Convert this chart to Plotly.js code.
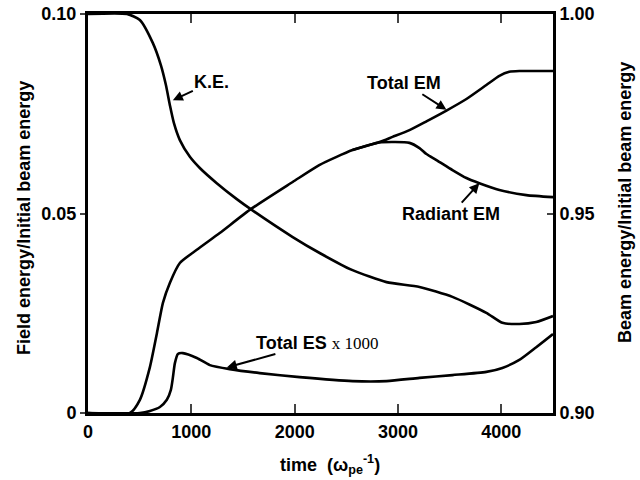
<!DOCTYPE html>
<html><head><meta charset="utf-8">
<script src="https://cdn.plot.ly/plotly-3.0.1.min.js"></script>
<style>html,body{margin:0;padding:0;background:#fff}</style>
</head><body><div id="chart" style="width:640px;height:480px"></div>
<script>
// Beam kinetic energy / initial beam energy (right axis)
const keTime  = [0, 377, 502, 628, 705, 754, 792, 831, 889, 986, 1082, 1246, 1440, 1585, 1981, 2242, 2560, 2889, 3208, 3527, 3855, 4010, 4174, 4338, 4500];
const keValue = [1.000, 1.000, 0.9985, 0.9927, 0.9872, 0.9822, 0.9772, 0.9727, 0.9684, 0.9642, 0.9614, 0.9576, 0.9536, 0.9509, 0.9441, 0.9401, 0.9358, 0.9328, 0.9316, 0.9291, 0.9251, 0.9226, 0.9223, 0.9228, 0.9243];

// Total EM field energy / initial beam energy (left axis)
const emTime  = [0, 406, 502, 599, 667, 725, 792, 889, 1053, 1275, 1565, 1981, 2242, 2560, 2821, 2947, 3111, 3275, 3469, 3662, 3855, 3981, 4077, 4174, 4500];
const emValue = [0, 0, 0.0033, 0.0115, 0.0200, 0.0276, 0.0326, 0.0376, 0.0409, 0.0451, 0.0509, 0.0579, 0.0622, 0.0659, 0.0679, 0.0692, 0.0709, 0.0731, 0.0758, 0.0787, 0.0822, 0.0845, 0.0855, 0.0857, 0.0857];

// Radiant EM (left axis)
const radTime  = [2560, 2821, 3111, 3208, 3275, 3372, 3527, 3662, 3787, 3981, 4242, 4500];
const radValue = [0.0659, 0.0678, 0.0677, 0.0664, 0.0649, 0.0634, 0.0609, 0.0589, 0.0576, 0.0559, 0.0546, 0.0541];

// Total ES x 1000 (left axis)
const esTime  = [0, 502, 599, 696, 763, 802, 821, 841, 870, 918, 1053, 1179, 1372, 1662, 2048, 2560, 2889, 3208, 3527, 3855, 4010, 4174, 4338, 4500];
const esValue = [0, 0, 0.0005, 0.0015, 0.0033, 0.0058, 0.0088, 0.0125, 0.0148, 0.0150, 0.0138, 0.0120, 0.0110, 0.0100, 0.0090, 0.0080, 0.0080, 0.0088, 0.0095, 0.0103, 0.0113, 0.0133, 0.0165, 0.0198];

const xTicks = [0, 1000, 2000, 3000, 4000];
const xTickText = ['0', '1000', '2000', '3000', '4000'];
const yTicks = [0, 0.05, 0.10];
const yTickText = ['0', '0.05', '0.10'];
const y2Ticks = [0.90, 0.95, 1.00];
const y2TickText = ['0.90', '0.95', '1.00'];

const FONT = 'Liberation Sans';
const ln = {color: '#000', width: 2.6, shape: 'spline', smoothing: 0.6};

const traces = [
  {x: keTime, y: keValue, yaxis: 'y2', mode: 'lines', line: ln, name: 'K.E.'},
  {x: emTime, y: emValue, mode: 'lines', line: ln, name: 'Total EM'},
  {x: radTime, y: radValue, mode: 'lines', line: ln, name: 'Radiant EM'},
  {x: esTime, y: esValue, mode: 'lines', line: ln, name: 'Total ES x1000'}
];

const tf = {family: FONT, size: 18, color: '#000', weight: 'bold'};
function arrowNote(text, x, y, ax, ay, yref) {
  return {text: text, x: x, y: y, xref: 'x', yref: yref || 'y', ax: ax, ay: ay,
    showarrow: true, arrowhead: 2, arrowsize: 1, arrowwidth: 2, arrowcolor: '#000',
    font: tf, standoff: 0};
}

const layout = {
  width: 640, height: 480,
  margin: {l: 88, r: 87, t: 14, b: 67},
  paper_bgcolor: '#fff', plot_bgcolor: '#fff',
  showlegend: false,
  font: {family: FONT, size: 18, color: '#000', weight: 'bold'},
  xaxis: {range: [0, 4500], tickvals: xTicks, ticktext: xTickText, ticks: 'inside', ticklen: 9, tickwidth: 2,
    showline: true, linewidth: 3, linecolor: '#000', mirror: 'ticks', showgrid: false, zeroline: false,
    tickfont: tf},
  yaxis: {range: [0, 0.10], tickvals: yTicks, ticktext: yTickText, ticks: 'outside', ticklen: 5, tickwidth: 2,
    showline: true, linewidth: 3, linecolor: '#000', showgrid: false, zeroline: false, tickfont: tf},
  yaxis2: {range: [0.90, 1.00], overlaying: 'y', side: 'right', tickvals: y2Ticks, ticktext: y2TickText,
    ticks: 'inside', ticklen: 6, tickwidth: 2, showline: true, linewidth: 3, linecolor: '#000',
    showgrid: false, zeroline: false, tickfont: tf},
  annotations: [
    arrowNote('K.E.', 821, 0.9784, 39, -18, 'y2'),
    arrowNote('Total EM', 3469, 0.0760, -42, -27),
    arrowNote('Radiant EM', 3787, 0.0576, -28, 31),
    arrowNote('Total ES <span style="font-family:\'Liberation Serif\';font-weight:normal;font-size:17px">x 1000</span>', 1343, 0.0114, 90, -25),
    {text: 'Field energy/Initial beam energy', xref: 'paper', yref: 'paper', x: -0.1376, y: 0.489,
      textangle: -90, showarrow: false, font: tf, xanchor: 'center', yanchor: 'middle'},
    {text: 'Beam energy/Initial beam energy', xref: 'paper', yref: 'paper', x: 1.1548, y: 0.529,
      textangle: -90, showarrow: false, font: tf, xanchor: 'center', yanchor: 'middle'},
    {text: 'time  (ω<sub>pe</sub><sup>-1</sup>)', xref: 'paper', yref: 'paper', x: 0.52, y: -0.130,
      showarrow: false, font: tf, xanchor: 'center', yanchor: 'middle'}
  ]
};

Plotly.newPlot('chart', traces, layout, {displayModeBar: false, staticPlot: true});
</script>
</body></html>
